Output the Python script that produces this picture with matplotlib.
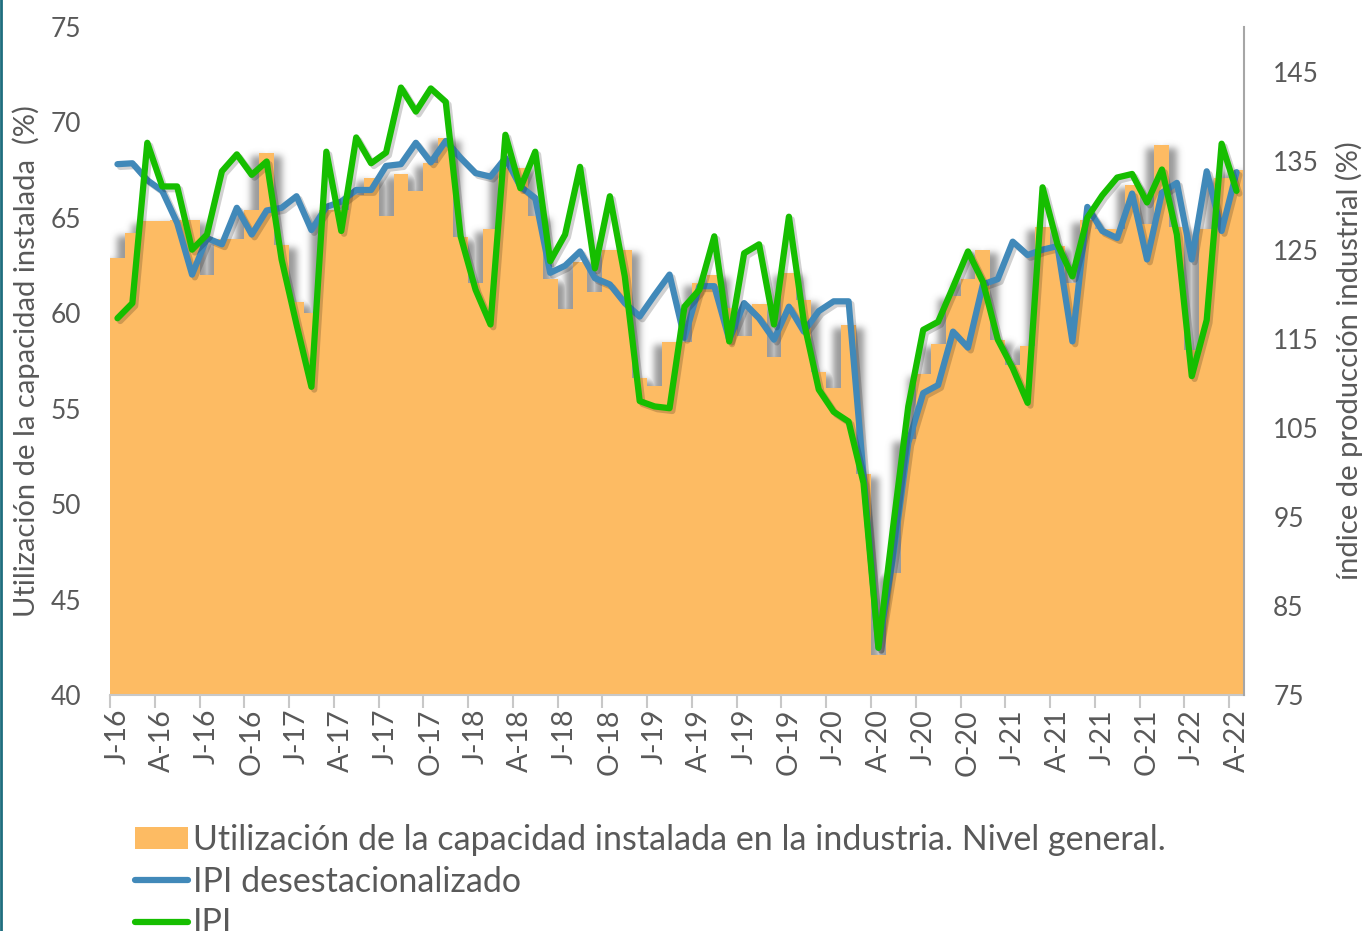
import numpy as np
import matplotlib
matplotlib.use("Agg")
import matplotlib.pyplot as plt
from matplotlib.patches import Patch
from matplotlib.lines import Line2D
import matplotlib.patheffects as pe

# ---------------- data ----------------
month_letters = ["J", "A", "J", "O"]
years = ["16", "17", "18", "19", "20", "21", "22"]
tick_labels = []
for y in years:
    for m in month_letters:
        tick_labels.append(f"{m}-{y}")
tick_labels = tick_labels[:26]  # J-16 ... A-22

# Utilización de la capacidad instalada (%), Jan-2016 .. Apr-2022
uci = [62.9, 64.2, 64.85, 64.85, 64.9, 64.9, 62.0, 63.9, 63.9, 65.4, 68.4, 63.6,
       60.6, 60.0, 65.4, 65.4, 66.2, 67.1, 65.1, 67.3, 66.4, 67.9, 69.2, 64.0,
       61.6, 64.4, 67.6, 67.6, 65.1, 61.8, 60.2, 62.7, 61.1, 63.3, 63.3, 56.6,
       56.2, 58.5, 58.5, 61.6, 62.0, 60.3, 58.8, 60.5, 57.7, 62.1, 60.7, 56.9,
       56.1, 59.4, 51.6, 42.1, 46.4, 53.4, 56.8, 58.4, 60.9, 61.8, 63.3, 58.6,
       57.3, 58.3, 64.5, 63.5, 61.6, 64.9, 64.4, 64.4, 66.7, 64.7, 68.8, 64.5,
       58.1, 64.4, 67.1, 67.5]

# IPI desestacionalizado
ipi_sa = [134.6, 134.7, 132.8, 131.6, 128.0, 122.2, 126.3, 125.6, 129.7, 126.7, 129.4, 129.7,
          131.0, 127.2, 129.8, 130.4, 131.7, 131.7, 134.4, 134.6, 137.0, 134.8, 137.2, 135.3,
          133.6, 133.2, 135.3, 132.1, 130.8, 122.4, 123.2, 124.8, 121.8, 121.1, 119.0, 117.5,
          119.9, 122.2, 115.1, 120.9, 120.9, 114.9, 119.0, 117.3, 114.9, 118.6, 115.8, 118.1,
          119.2, 119.2, 99.7, 80.3, 90.7, 103.3, 108.9, 109.8, 115.8, 114.0, 121.1, 121.7,
          125.9, 124.4, 125.0, 125.4, 114.7, 129.8, 127.1, 126.3, 131.3, 123.9, 131.4, 132.5,
          123.9, 133.8, 127.1, 133.7]

# IPI
ipi = [117.3, 119.0, 137.0, 132.1, 132.1, 125.0, 126.7, 133.8, 135.7, 133.4, 134.9, 123.9,
       116.6, 109.6, 136.0, 127.1, 137.6, 134.7, 135.9, 143.2, 140.5, 143.1, 141.6, 126.5,
       120.5, 116.6, 137.9, 131.9, 136.0, 123.7, 126.7, 134.3, 122.9, 131.0, 122.0, 108.0,
       107.4, 107.2, 118.6, 120.5, 126.5, 114.7, 124.6, 125.6, 116.6, 128.7, 116.9, 109.3,
       106.8, 105.7, 98.8, 80.3, 94.1, 107.4, 116.0, 116.9, 120.8, 124.8, 121.4, 114.9,
       111.7, 107.8, 132.0, 125.6, 122.0, 128.6, 131.1, 133.1, 133.5, 130.3, 134.0, 126.7,
       110.8, 117.1, 136.9, 131.6]

legend_labels = ["Utilización de la capacidad instalada en la industria. Nivel general.",
                 "IPI desestacionalizado", "IPI"]
left_label = "Utilización de la capacidad instalada  (%)"
right_label = "índice de producción industrial (%)"

# ---------------- style ----------------
FONT = ["Lato", "DejaVu Sans"]
plt.rcParams["font.family"] = FONT
C_BAR = "#FDBB63"
C_BLUE = "#4189B9"
C_GREEN = "#16BE00"
C_TXT = "#595959"

W_PX, H_PX = 1362, 931
fig = plt.figure(figsize=(W_PX / 100, H_PX / 100), dpi=100)
L, R, T, B = 110, 1244, 27, 695
ax = fig.add_axes([L / W_PX, 1 - B / H_PX, (R - L) / W_PX, (B - T) / H_PX])

n = len(uci)
x = np.arange(n)
ax.set_xlim(-0.5, n - 0.5)
ax.set_ylim(40, 75)

# ---- blurred shadow behind the stepped columns (pixel grid) ----
px_w, px_h = R - L, B - T
xs = -0.5 + (np.arange(px_w) + 0.5) * n / px_w
ys = 40 + (np.arange(px_h) + 0.5) * 35 / px_h
idx = np.clip(np.floor(xs + 0.5).astype(int), 0, n - 1)
tops = np.asarray(uci)[idx]
mask = (ys[:, None] < tops[None, :]).astype(float)


def gk(s):
    r = int(3 * s)
    t = np.arange(-r, r + 1)
    k = np.exp(-t ** 2 / (2 * s * s))
    return k / k.sum(), r


def blur(a, sx, sy):
    kx, rx = gk(sx)
    ky, ry = gk(sy)
    p = np.pad(a, ((ry, ry), (rx, rx)), mode="edge")
    p = np.apply_along_axis(lambda r_: np.convolve(r_, kx, mode="valid"), 1, p)
    p = np.apply_along_axis(lambda c_: np.convolve(c_, ky, mode="valid"), 0, p)
    return p


def shift(a, dx, dy):
    out = np.pad(a, ((abs(dy), abs(dy)), (abs(dx), abs(dx))), mode="edge")
    h, w = a.shape
    return out[abs(dy) - dy: abs(dy) - dy + h, abs(dx) - dx: abs(dx) - dx + w]


mb = blur(mask, 3.5, 3.5)
# grey shade spreading to both sides of each step, slightly lowered
sh = np.maximum(shift(mb, 8, -3), shift(mb, -8, -3))
rgba = np.zeros(sh.shape + (4,))
rgba[..., :3] = 0.45
rgba[..., 3] = np.clip(sh, 0, 1) * 0.72
ax.imshow(rgba, extent=(-0.5, n - 0.5, 40, 75), origin="lower", aspect="auto",
          zorder=1, interpolation="bilinear")

ax.bar(x, uci, width=1.0, color=C_BAR, linewidth=0, zorder=2)

ax.set_xticks(x[::3])
ax.set_xticklabels(tick_labels, rotation=90, fontsize=20.5, color=C_TXT)
ax.set_xticks(np.arange(-0.5, n, 3), minor=True)
ax.tick_params(axis="x", which="major", length=0, pad=10)
ax.tick_params(axis="x", which="minor", length=9, width=1.5, color="#C8C8C8")
ax.set_yticks(np.arange(40, 76, 5))
ax.tick_params(axis="y", length=0, pad=21, labelsize=19, labelcolor=C_TXT)
for s in ["top", "left", "right"]:
    ax.spines[s].set_visible(False)
ax.spines["bottom"].set_color("#C8C8C8")
ax.spines["bottom"].set_linewidth(1.5)
ax.set_ylabel(left_label, fontsize=21, color=C_TXT)
ax.yaxis.set_label_coords(-0.062, 0.5)

ax2 = ax.twinx()
ax2.set_ylim(75, 150)
ax2.set_yticks(np.arange(75, 146, 10))
ax2.tick_params(axis="y", length=0, pad=21, labelsize=19, labelcolor=C_TXT)
for s in ["top", "left", "bottom"]:
    ax2.spines[s].set_visible(False)
ax2.spines["right"].set_color("#A6A6A6")
ax2.spines["right"].set_linewidth(1.5)
ax2.set_ylabel(right_label, fontsize=21, color=C_TXT)
ax2.yaxis.set_label_coords(1.0805, 0.5)

shadow = [pe.SimpleLineShadow(offset=(2, -2), shadow_color="k", alpha=0.18), pe.Normal()]
ax2.plot(x, ipi_sa, color=C_BLUE, lw=4.5, solid_joinstyle="round",
         solid_capstyle="round", path_effects=shadow, zorder=3)
ax2.plot(x, ipi, color=C_GREEN, lw=4.5, solid_joinstyle="round",
         solid_capstyle="round", path_effects=shadow, zorder=4)

handles = [Patch(facecolor=C_BAR, edgecolor="none"),
           Line2D([], [], color=C_BLUE, lw=4.5, solid_capstyle="round"),
           Line2D([], [], color=C_GREEN, lw=4.5, solid_capstyle="round")]
fig.legend(handles, legend_labels, loc="upper left",
           bbox_to_anchor=(135 / W_PX, 1 - 824 / H_PX), frameon=False,
           fontsize=24.5, labelcolor=C_TXT, handlelength=1.55, handleheight=0.62,
           handletextpad=0.15, labelspacing=0.28, borderpad=0, borderaxespad=0)

# thin dark border at left edge
fig.add_artist(Line2D([0.001, 0.001], [0, 1], transform=fig.transFigure,
                      color="#1F6E7E", lw=2))

fig.savefig("out.png", dpi=100)
